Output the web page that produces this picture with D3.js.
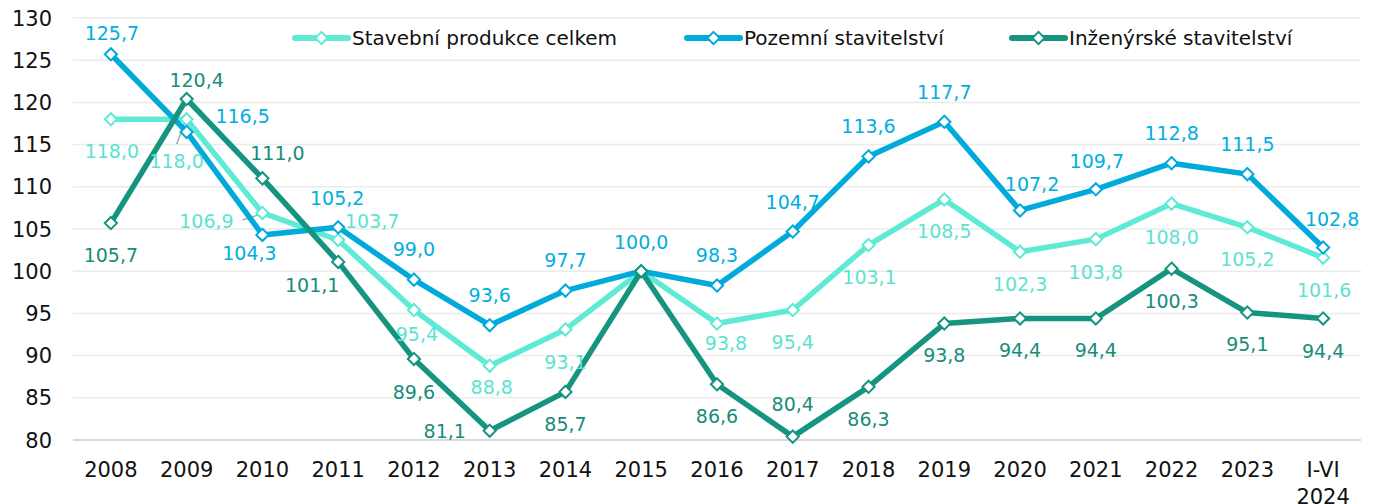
<!DOCTYPE html>
<html>
<head>
<meta charset="utf-8">
<script src="https://cdn.jsdelivr.net/npm/d3@7"></script>
<style>
  body { margin: 0; background: #fff; }
  svg { display: block; font-family: "DejaVu Sans", sans-serif; }
</style>
</head>
<body>
<svg id="chart" width="1375" height="504"></svg>
<script>
// data
const years = ["2008","2009","2010","2011","2012","2013","2014","2015","2016",
  "2017","2018","2019","2020","2021","2022","2023","I-VI 2024"];
const celkem = [118.0,118.0,106.9,103.7,95.4,88.8,93.1,100.0,93.8,95.4,103.1,108.5,102.3,103.8,108.0,105.2,101.6];
const pozemni = [125.7,116.5,104.3,105.2,99.0,93.6,97.7,100.0,98.3,104.7,113.6,117.7,107.2,109.7,112.8,111.5,102.8];
const inzenyrske = [105.7,120.4,111.0,101.1,89.6,81.1,85.7,100.0,86.6,80.4,86.3,93.8,94.4,94.4,100.3,95.1,94.4];
const yTicks = [80,85,90,95,100,105,110,115,120,125,130];

// label placement [dx, dy] relative to the point, null = no label
const celkemLbl = [[1,32],[-10,42],[-56,8],[34,-19],[3,24],[2,21],[0,33],null,[9,20],[0,32],[1,32],[0,32],[0,32],[0,33],[0,33],[0,32],[1,32]];
const pozemniLbl = [[1,-21],[56,-16],[-13,18],[-1,-29],[0,-30],[0,-30],[0,-30],[0,-29],[0,-30],[0,-29],[0,-30],[0,-30],[12,-26],[1,-28],[0,-30],[0,-30],[9,-28]];
const inzenyrskeLbl = [[0,32],[10,-19],[15,-25],[-26,23],[0,33],[-45,0],[0,32],null,[0,32],[0,-32],[0,32],[0,32],[0,32],[0,32],[0,32],[0,32],[0,33]];

const series = [
  {name: "Stavební produkce celkem", values: celkem, lbl: celkemLbl, color: "#5EEAD4", text: "#5CE3CF"},
  {name: "Pozemní stavitelství", values: pozemni, lbl: pozemniLbl, color: "#00AADB", text: "#00AEE0"},
  {name: "Inženýrské stavitelství", values: inzenyrske, lbl: inzenyrskeLbl, color: "#15947F", text: "#168D79"}
];

const svg = d3.select("#chart");
const x = d3.scalePoint().domain(years).range([73, 1361]).padding(0.5);
const y = d3.scaleLinear().domain([80, 130]).range([440, 18]);

// grid
svg.append("g").selectAll("line").data(yTicks).join("line")
  .attr("x1", 73).attr("x2", 1361)
  .attr("y1", d => y(d)).attr("y2", d => y(d))
  .attr("stroke", d => d === 80 ? "#d9d9d9" : "#ebebeb")
  .attr("stroke-width", d => d === 80 ? 2 : 1.5);

svg.append("g").selectAll("text").data(yTicks).join("text")
  .attr("x", 52).attr("y", d => y(d)).attr("dy", "0.36em")
  .attr("text-anchor", "end").attr("font-size", 21).attr("fill", "#111")
  .text(d => d);

const xl = svg.append("g").selectAll("text").data(years).join("text")
  .attr("y", 469).attr("text-anchor", "middle").attr("font-size", 21).attr("fill", "#111");
xl.each(function(d) {
  const parts = d.split(" ");
  d3.select(this).selectAll("tspan").data(parts).join("tspan")
    .attr("x", x(d)).attr("dy", (p, i) => i === 0 ? "0.36em" : 27)
    .text(p => p);
});

// leader lines for the two moved labels
svg.append("line")
  .attr("x1", x(years[1]) - 10).attr("y1", y(celkem[1]) + 25)
  .attr("x2", x(years[1]) - 1).attr("y2", y(celkem[1]) + 1)
  .attr("stroke", "#a6a6a6").attr("stroke-width", 1.5);
svg.append("line")
  .attr("x1", x(years[2]) - 20).attr("y1", y(celkem[2]) + 7)
  .attr("x2", x(years[2]) - 1).attr("y2", y(celkem[2]) + 1)
  .attr("stroke", "#a6a6a6").attr("stroke-width", 1.5);

const line = d3.line().x((d, i) => x(years[i])).y(d => y(d));
const diamond = d3.symbol().type(d3.symbolDiamond2).size(95);

series.forEach(s => {
  const g = svg.append("g");
  g.append("path").datum(s.values).attr("d", line)
    .attr("fill", "none").attr("stroke", s.color).attr("stroke-width", 5.5)
    .attr("stroke-linejoin", "round");
  g.selectAll("path.m").data(s.values).join("path").attr("class", "m")
    .attr("transform", (d, i) => `translate(${x(years[i])},${y(d)})`)
    .attr("d", diamond).attr("fill", "#fff").attr("stroke", s.color).attr("stroke-width", 2);
});

series.forEach(s => {
  const pts = s.values.map((v, i) => ({v, i, o: s.lbl[i]})).filter(p => p.o !== null);
  svg.append("g").selectAll("text").data(pts).join("text")
    .attr("x", p => x(years[p.i]) + p.o[0])
    .attr("y", p => y(p.v) + p.o[1])
    .attr("dy", "0.36em").attr("text-anchor", "middle")
    .attr("font-size", 19).attr("fill", s.text)
    .text(p => p.v.toFixed(1).replace(".", ","));
});

// legend
const legendX = [293, 685, 1010];
series.forEach((s, i) => {
  const g = svg.append("g").attr("transform", `translate(${legendX[i]},38)`);
  g.append("line").attr("x1", 2).attr("x2", 55).attr("stroke", s.color)
    .attr("stroke-width", 6).attr("stroke-linecap", "round");
  g.append("path").attr("transform", "translate(28.5,0)").attr("d", diamond)
    .attr("fill", "#fff").attr("stroke", s.color).attr("stroke-width", 2);
  g.append("text").attr("x", 59).attr("dy", "0.36em").attr("font-size", 20)
    .attr("fill", "#111").text(s.name);
});
</script>
</body>
</html>
